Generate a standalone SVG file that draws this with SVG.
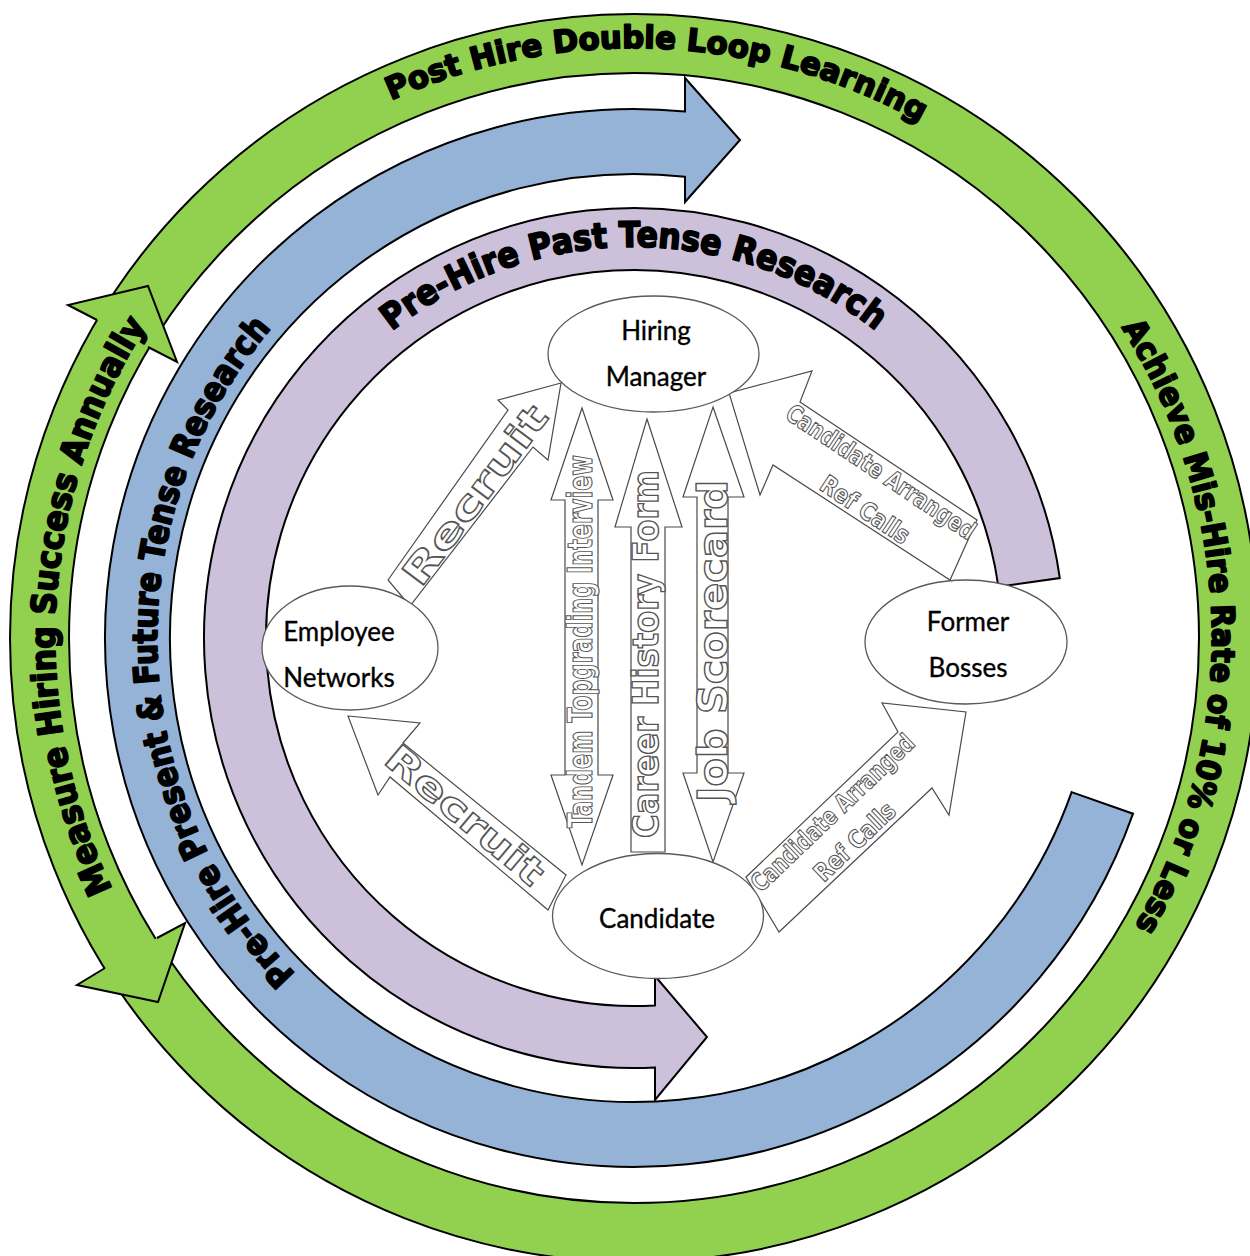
<svg xmlns="http://www.w3.org/2000/svg" width="1250" height="1256" viewBox="0 0 1250 1256">
<defs>
<style>
.ring{stroke:#000;stroke-width:2;stroke-linejoin:miter}
.green{fill:#92D050}
.blue{fill:#95B3D7}
.purple{fill:#CCC0DA}
.rt{font-family:'DejaVu Sans','Liberation Sans',sans-serif;font-weight:bold;fill:#000;stroke:#000;stroke-width:1.9;stroke-linejoin:round}
.blk{fill:#fff;stroke:#4a4a4a;stroke-width:1.2;stroke-linejoin:miter}
.ot{font-family:'DejaVu Sans','Liberation Sans',sans-serif;font-weight:bold;fill:#fff;stroke:#555;stroke-width:1.4;text-anchor:middle}
.on{font-family:'DejaVu Sans Condensed','Liberation Sans Narrow','DejaVu Sans',sans-serif;font-weight:bold;fill:#fff;stroke:#555;stroke-width:1.1;text-anchor:middle}
.node{fill:#fff;stroke:#595959;stroke-width:1.3}
.nt{font-family:Lato,'Open Sans',sans-serif;font-size:26px;fill:#000;stroke:#000;stroke-width:0.35;text-anchor:middle}
</style>
<path id="pGreenTop" d="M 391.2,100.3 A 590 590 0 0 1 921.9,123.0"/>
<path id="pGreenRight" d="M 1121.5,327.4 A 578 578 0 0 1 1132.0,931.3"/>
<path id="pGreenLeft" d="M 112.3,889.1 A 579 579 0 0 1 148.4,322.7"/>
<path id="pBlue" d="M 295.5,974.1 A 477 477 0 0 1 272.9,326.3"/>
<path id="pPurple" d="M 391.7,331.1 A 390 390 0 0 1 877.4,332.0"/>
</defs>
<rect width="1250" height="1256" fill="#fff"/>

<g id="ring-green">
<path class="ring green" fill-rule="evenodd" d="M 10,638 A 624 624 0 1 1 1258,638 A 624 624 0 1 1 10,638 Z M 69,638 A 565 565 0 1 0 1199,638 A 565 565 0 1 0 69,638 Z"/>
<polyline class="ring green" points="97,320 68,305 148,286 177,362 148,347"/>
<polyline class="ring green" points="105,968 77,985 158,1002 185,923 157,938"/>
</g>
<g id="ring-blue">
<path class="ring blue" d="M 1071.6,792.1 L 1133,813.7 A 529 529 0 1 1 685,111.5 L 685,78 L 740,140 L 685,202 L 685,176.8 A 464 464 0 1 0 1071.6,792.1 Z"/>
</g>
<g id="ring-purple">
<path class="ring purple" d="M 998.4,586.8 L 1059.8,578.1 A 430 430 0 1 0 655,1067.5 L 655,1100 L 707,1037 L 655,976 L 655,1005.4 A 368 368 0 1 1 998.4,586.8 Z"/>
</g>

<g id="ring-labels">
<text class="rt" font-size="31"><textPath href="#pGreenTop" textLength="549" lengthAdjust="spacingAndGlyphs">Post Hire Double Loop Learning</textPath></text>
<text class="rt" font-size="32"><textPath href="#pGreenRight" textLength="630" lengthAdjust="spacingAndGlyphs">Achieve Mis-Hire Rate of 10% or Less</textPath></text>
<text class="rt" font-size="34"><textPath href="#pGreenLeft" textLength="590" lengthAdjust="spacingAndGlyphs">Measure Hiring Success Annually</textPath></text>
<text class="rt" font-size="34"><textPath href="#pBlue" textLength="710" lengthAdjust="spacingAndGlyphs">Pre-Hire Present &amp; Future Tense Research</textPath></text>
<text class="rt" font-size="35"><textPath href="#pPurple" textLength="522" lengthAdjust="spacingAndGlyphs">Pre-Hire Past Tense Research</textPath></text>
</g>

<g id="connectors">
<g id="arrow-recruit-up">
<polygon class="blk" points="388,580 508,410 498,400 561,383 548,460 533,447 410,606"/>
<text class="ot" font-size="37" transform="translate(475,495) rotate(-53)" x="0" y="13" textLength="215" lengthAdjust="spacingAndGlyphs">Recruit</text>
</g>
<g id="arrow-recruit-down">
<polygon class="blk" points="348,716 420,723 403,743 566,875 548,910 390,777 378,795"/>
<text class="ot" font-size="37" transform="translate(465,815) rotate(40)" x="0" y="13" textLength="195" lengthAdjust="spacingAndGlyphs">Recruit</text>
</g>
<g id="arrow-tandem">
<polygon class="blk" points="582,408 613,500 598,500 598,775 613,775 582,865 551,775 565,775 565,500 551,500"/>
<text class="on" font-size="33" transform="translate(580,641.5) rotate(-90)" x="0" y="12" textLength="373" lengthAdjust="spacingAndGlyphs">Tandem Topgrading Interview</text>
</g>
<g id="arrow-career">
<polygon class="blk" points="647,419 682,527 665,527 665,852 631,852 631,527 615,527"/>
<text class="ot" font-size="36" transform="translate(646,654) rotate(-90)" x="0" y="12" textLength="368" lengthAdjust="spacingAndGlyphs">Career History Form</text>
</g>
<g id="arrow-scorecard">
<polygon class="blk" points="713,407 744,497 728,497 728,773 744,773 713,862 683,773 697,773 697,497 683,497"/>
<text class="ot" font-size="41" transform="translate(712,641) rotate(-90)" x="0" y="15" textLength="322" lengthAdjust="spacingAndGlyphs">Job Scorecard</text>
</g>
<g id="arrow-refcalls-up">
<polygon class="blk" points="729,393 812,371 800,402 977,520 950,580 773,465 760,495"/>
<g transform="translate(800,402) rotate(33.7)">
<text class="on" font-size="25" x="106" y="22" textLength="222" lengthAdjust="spacingAndGlyphs">Candidate Arranged</text>
<text class="on" font-size="25" x="114" y="62" textLength="102" lengthAdjust="spacingAndGlyphs">Ref Calls</text>
</g>
</g>
<g id="arrow-refcalls-down">
<polygon class="blk" points="746,877 898,732 882,703 966,712 949,815 932,788 779,932"/>
<g transform="translate(746,877) rotate(-43.65)">
<text class="on" font-size="25" x="107" y="22" textLength="215" lengthAdjust="spacingAndGlyphs">Candidate Arranged</text>
<text class="on" font-size="25" x="103" y="58" textLength="102" lengthAdjust="spacingAndGlyphs">Ref Calls</text>
</g>
</g>
</g>

<g id="node-hiring-manager">
<ellipse class="node" cx="653.5" cy="354" rx="105.5" ry="58"/>
<text class="nt" x="656" y="340">Hiring</text>
<text class="nt" x="656" y="386">Manager</text>
</g>
<g id="node-employee-networks">
<ellipse class="node" cx="350" cy="648" rx="88" ry="62"/>
<text class="nt" x="339" y="641">Employee</text>
<text class="nt" x="339" y="687">Networks</text>
</g>
<g id="node-former-bosses">
<ellipse class="node" cx="966" cy="642" rx="101" ry="62"/>
<text class="nt" x="968" y="631">Former</text>
<text class="nt" x="968" y="677">Bosses</text>
</g>
<g id="node-candidate">
<ellipse class="node" cx="658" cy="916" rx="105.5" ry="62.5"/>
<text class="nt" x="657" y="928" font-size="29">Candidate</text>
</g>
</svg>
